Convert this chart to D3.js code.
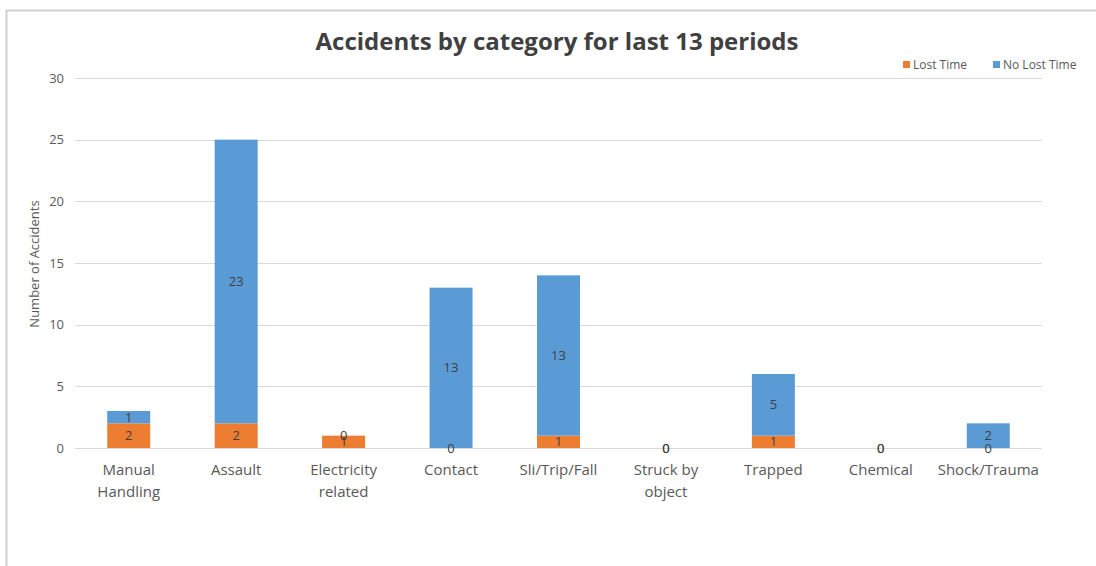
<!DOCTYPE html>
<html><head><meta charset="utf-8">
<script src="https://cdn.jsdelivr.net/npm/d3@7"></script>
<style>
body{margin:0;background:#fff;}
svg{display:block;font-family:"Liberation Sans Narrow","Open Sans",sans-serif;}
</style></head>
<body><svg id="c" width="1096" height="566"></svg>
<script>
const categories = ["Manual Handling","Assault","Electricity related","Contact","Sli/Trip/Fall","Struck by object","Trapped","Chemical","Shock/Trauma"];
const categoryLines = [["Manual","Handling"],["Assault"],["Electricity","related"],["Contact"],["Sli/Trip/Fall"],["Struck by","object"],["Trapped"],["Chemical"],["Shock/Trauma"]];
const lostTime = [2,2,1,0,1,0,1,0,0];
const noLostTime = [1,23,0,13,13,0,5,0,2];
const seriesNames = ["Lost Time","No Lost Time"];
const yTicks = [0,5,10,15,20,25,30];
const colors = ["#ED7D31","#5B9BD5"];

(function(){
const svg = d3.select("#c");
// frame
svg.append("path").attr("d","M6.5,566 V10.5 H1096").attr("fill","none").attr("stroke","#d0d0d0").attr("stroke-width",2);

const pL=75, pR=1042, pT=78, pB=448;
const x = d3.scaleBand().domain(categories).range([pL,pR]).paddingInner(0.6).paddingOuter(0.3);
const y = d3.scaleLinear().domain([0,30]).range([pB,pT]);

svg.append("g").selectAll("line").data(yTicks).join("line")
  .attr("x1",pL).attr("x2",pR).attr("y1",d=>Math.round(y(d))+0.5).attr("y2",d=>Math.round(y(d))+0.5)
  .attr("stroke","#d9d9d9").attr("stroke-width",1);
svg.append("g").selectAll("text").data(yTicks).join("text")
  .attr("x",64).attr("y",d=>y(d)).attr("dy","0.35em").attr("text-anchor","end")
  .attr("font-size",13).attr("fill","#595959").text(d=>d);
svg.append("text").attr("transform",`translate(39,${(pT+pB)/2+1}) rotate(-90)`)
  .attr("text-anchor","middle").attr("font-size",13).attr("fill","#595959").text("Number of Accidents");

const data = categories.map((c,i)=>({cat:c, v:[lostTime[i], noLostTime[i]]}));
const stack = d3.stack().keys([0,1]).value((d,k)=>d.v[k])(data);

const g = svg.append("g");
stack.forEach((s,k)=>{
  g.selectAll(null).data(s).join("rect")
    .attr("x",d=>x(d.data.cat)).attr("width",x.bandwidth())
    .attr("y",d=>y(d[1])).attr("height",d=>y(d[0])-y(d[1]))
    .attr("fill",colors[k]);
});
stack.forEach((s,k)=>{
  g.selectAll(null).data(s).join("text")
    .attr("x",d=>x(d.data.cat)+x.bandwidth()/2)
    .attr("y",d=>y((d[0]+d[1])/2)).attr("dy","0.35em")
    .attr("text-anchor","middle").attr("font-size",13).attr("fill","#404040")
    .text(d=>d.data.v[k]);
});

const xl = svg.append("g");
categories.forEach((c,i)=>{
  const cx = x(c)+x.bandwidth()/2;
  const t = xl.append("text").attr("x",cx).attr("y",475)
    .attr("text-anchor","middle").attr("font-size",15).attr("fill","#595959");
  categoryLines[i].forEach((ln,j)=>t.append("tspan").attr("x",cx).attr("dy",j?22:0).text(ln));
});

svg.append("text").attr("x",557).attr("y",50).attr("text-anchor","middle")
  .attr("font-size",24).attr("font-weight","bold").attr("fill","#404040")
  .text("Accidents by category for last 13 periods");

const lg = svg.append("g");
const lx = [903, 993];
seriesNames.forEach((n,k)=>{
  lg.append("rect").attr("x",lx[k]).attr("y",61).attr("width",7).attr("height",7).attr("fill",colors[k]);
  lg.append("text").attr("x",lx[k]+10).attr("y",65).attr("dy","0.35em").attr("font-size",12).attr("fill","#595959").text(n);
});
})();
</script></body></html>
